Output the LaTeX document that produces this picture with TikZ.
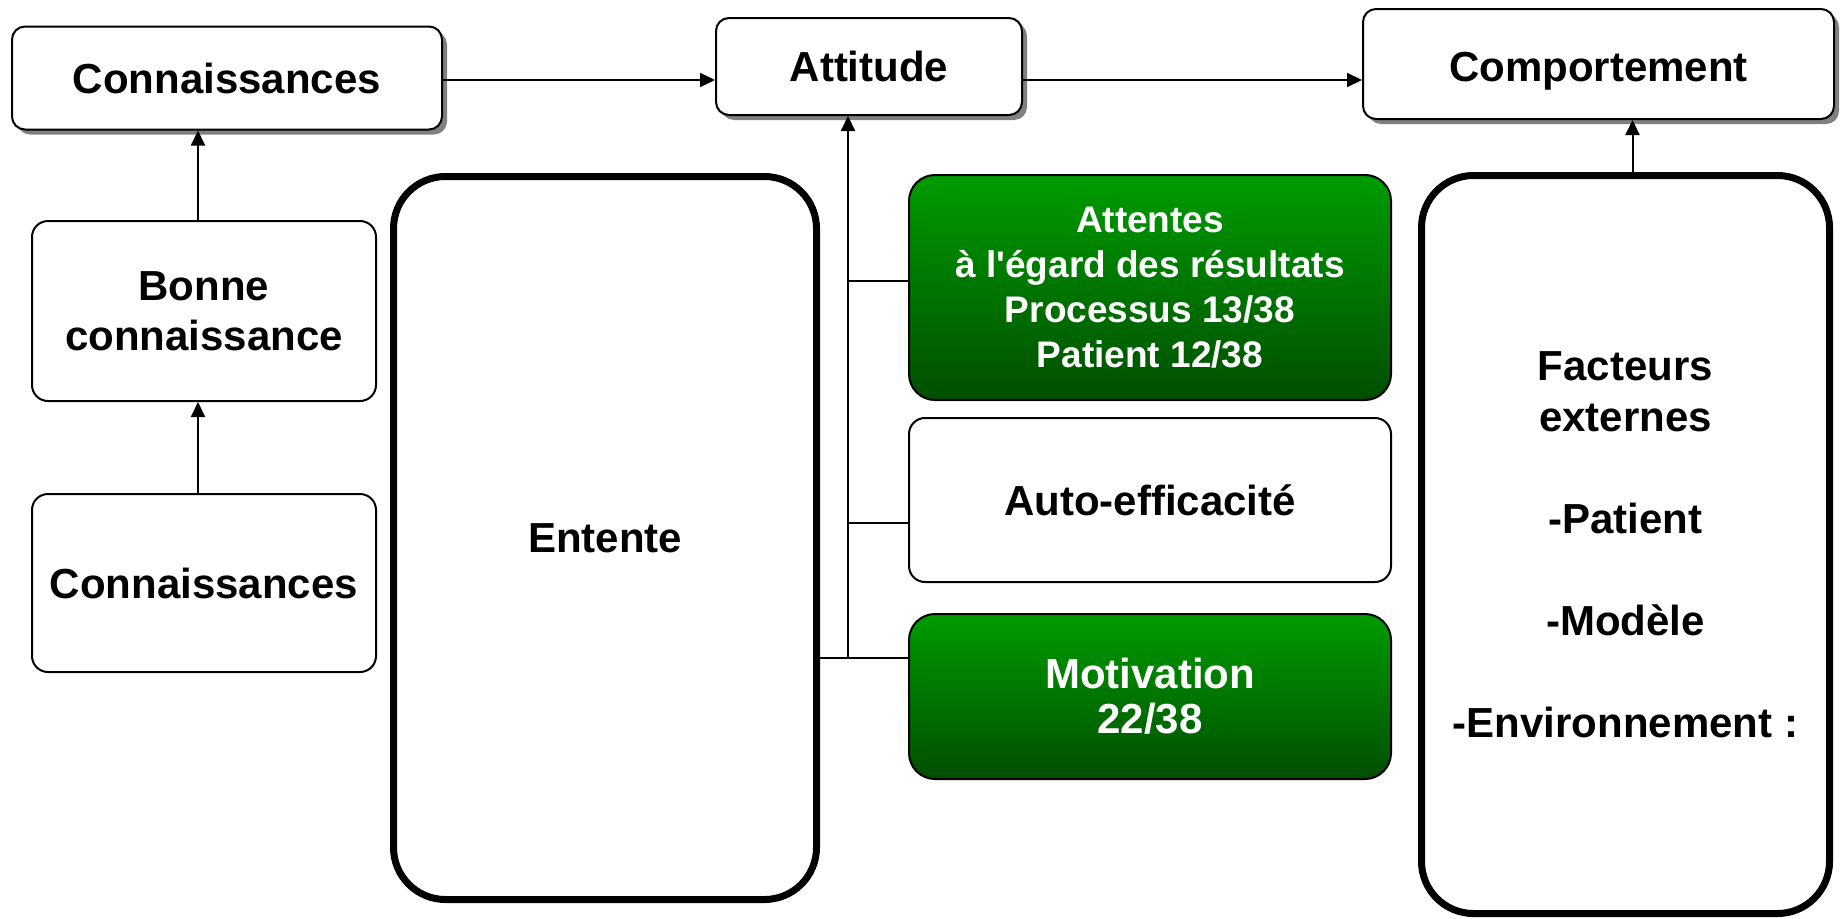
\documentclass[tikz,border=0pt]{standalone}
\usepackage{fontspec}
\setmainfont{Liberation Sans}
\usepackage{tikz}
\usetikzlibrary{arrows.meta,shadows,positioning}
\usepackage{xcolor}
\definecolor{greentop}{RGB}{0,156,0}
\definecolor{greenbot}{RGB}{0,78,0}

\begin{document}
\begin{tikzpicture}[x=1pt,y=-1pt,
		box/.style={draw,line width=2pt,rounded corners=16pt,fill=white,align=center,
			font=\bfseries\fontsize{42}{50}\selectfont},
		topbox/.style={box,rounded corners=13pt,
			drop shadow={shadow xshift=5pt,shadow yshift=-5pt,fill=gray,opacity=1}},
		greenbox/.style={box,rounded corners=26pt,top color=greentop,bottom color=greenbot,
			text=white},
		bigbox/.style={box,line width=7pt,rounded corners=52pt},
		link/.style={line width=2pt},
		pointer/.style={link,-{Triangle[length=15pt,width=14pt]}}]
	
	\useasboundingbox (0,0) rectangle (1841,918);
	
	% Top row
	\node[topbox,minimum width=430pt,minimum height=103pt] (know) at (227,78) {Connaissances};
	\node[topbox,minimum width=306pt,minimum height=97pt] (attitude) at (869,66.5) {Attitude};
	\node[topbox,minimum width=471pt,minimum height=110pt] (behaviour) at (1598.5,64) {\raisebox{-7pt}[\height][\depth]{Comportement}};
	
	% Left column
	\node[box,minimum width=344pt,minimum height=180pt] (goodknow) at (204,311) {Bonne\\connaissance};
	\node[box,minimum width=344pt,minimum height=178pt] (knowbase) at (204,583) {Connaissances};
	
	% Entente
	\node[bigbox,minimum width=423pt,minimum height=723pt] (entente) at (605,538) {Entente};
	
	% Middle column
	\node[greenbox,minimum width=482pt,minimum height=225pt,
		font=\bfseries\fontsize{37}{45}\selectfont] (expect) at (1150,287.5) {
		Attentes\\
		à l\textquotesingle égard des résultats\\
		Processus 13/38\\
		Patient 12/38
	};
	\node[box,minimum width=482pt,minimum height=164pt] (selfeff) at (1150,500) {Auto-efficacité};
	\node[greenbox,minimum width=482pt,minimum height=165pt,
		font=\bfseries\fontsize{42}{45}\selectfont] (motiv) at (1150,696.5) {Motivation\\22/38};
	
	% Facteurs externes
	\node[bigbox,minimum width=408pt,minimum height=738pt,
		font=\bfseries\fontsize{42}{51}\selectfont] (external) at (1625.5,544.5) {
		Facteurs\\
		externes\\[51pt]
		-Patient\\[51pt]
		-Modèle\\[51pt]
		-Environnement :
	};
	
	% Connectors
	\coordinate (toprow) at (0,80);
	\coordinate (trunkA) at (848,281);
	\coordinate (trunkB) at (848,523);
	\coordinate (trunkC) at (848,658);
	
	\draw[pointer] (know.east |- toprow) -- (attitude.west |- toprow);
	\draw[pointer] (attitude.east |- toprow) -- (behaviour.west |- toprow);
	\draw[pointer] ([xshift=-6pt]goodknow.north) -- ([xshift=-6pt]goodknow.north |- know.south);
	\draw[pointer] ([xshift=-6pt]knowbase.north) -- ([xshift=-6pt]knowbase.north |- goodknow.south);
	\draw[pointer] ([xshift=7pt]external.north) -- ([xshift=7pt]external.north |- behaviour.south);
	\draw[pointer] (trunkC) -- (trunkC |- attitude.south);
	\draw[link] (trunkA) -- (expect.west |- trunkA);
	\draw[link] (trunkB) -- (selfeff.west |- trunkB);
	\draw[link] (entente.east |- trunkC) -- (motiv.west |- trunkC);
	
\end{tikzpicture}
\end{document}
